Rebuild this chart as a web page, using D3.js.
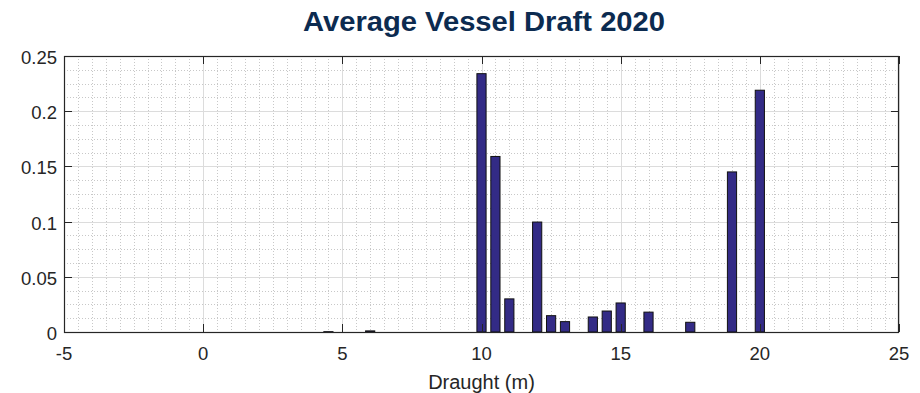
<!DOCTYPE html>
<html><head><meta charset="utf-8">
<script src="https://cdn.jsdelivr.net/npm/d3@7/dist/d3.min.js"></script>
<style>body{margin:0;background:#fff;}svg{display:block;font-family:"Liberation Sans",Arial,sans-serif;}</style>
</head><body><svg id="c" width="920" height="393"></svg>
<script>
const draught = [4.5, 6, 10, 10.5, 11, 12, 12.5, 13, 14, 14.5, 15, 16, 17.5, 19, 20];
const share   = [0.0003, 0.001, 0.234, 0.159, 0.030, 0.0996, 0.0148, 0.0094, 0.0136, 0.019, 0.0263, 0.018, 0.0088, 0.145, 0.219];
const xTicks = [-5, 0, 5, 10, 15, 20, 25];
const yTicks = [0, 0.05, 0.1, 0.15, 0.2, 0.25];
const titleText = "Average Vessel Draft 2020";
const xLabel = "Draught (m)";

const svg = d3.select("#c");
const L = 64, R = 899, T = 56, B = 332;
const x = d3.scaleLinear().domain([-5, 25]).range([L, R]);
const y = d3.scaleLinear().domain([0, 0.25]).range([B, T]);

// minor grid
const g = svg.append("g");
const xMinor = d3.range(-5, 25.001, 0.5);
const yMinor = d3.range(0, 0.25001, 0.0125);
g.selectAll(".mx").data(xMinor).enter().append("line")
  .attr("x1", d => Math.round(x(d)) + 0.5).attr("x2", d => Math.round(x(d)) + 0.5)
  .attr("y1", T).attr("y2", B)
  .attr("stroke", "#c8c8c8").attr("stroke-width", 1).attr("stroke-dasharray", "1,2");
g.selectAll(".my").data(yMinor).enter().append("line")
  .attr("y1", d => Math.round(y(d)) + 0.5).attr("y2", d => Math.round(y(d)) + 0.5)
  .attr("x1", L).attr("x2", R)
  .attr("stroke", "#c8c8c8").attr("stroke-width", 1).attr("stroke-dasharray", "1,2");
// major grid
g.selectAll(".gx").data(xTicks).enter().append("line")
  .attr("x1", d => Math.round(x(d)) + 0.5).attr("x2", d => Math.round(x(d)) + 0.5)
  .attr("y1", T).attr("y2", B).attr("stroke", "#dcdcdc");
g.selectAll(".gy").data(yTicks).enter().append("line")
  .attr("y1", d => Math.round(y(d)) + 0.5).attr("y2", d => Math.round(y(d)) + 0.5)
  .attr("x1", L).attr("x2", R).attr("stroke", "#dcdcdc");

// bars
const bw = x(0.33) - x(0);
svg.selectAll(".bar").data(draught).enter().append("rect")
  .attr("x", (d) => x(d) - bw / 2)
  .attr("width", bw)
  .attr("y", (d, i) => y(share[i]))
  .attr("height", (d, i) => B - y(share[i]))
  .attr("fill", "#332b86").attr("stroke", "#111").attr("stroke-width", 1);

// axes box with inner ticks
const tk = 8;
const ax = svg.append("g").attr("stroke", "#262626").attr("fill", "none");
ax.append("rect").attr("x", L + 0.5).attr("y", T + 0.5).attr("width", R - L - 1).attr("height", B - T)
  .attr("stroke-width", 1.2);
xTicks.forEach(d => {
  const px = Math.round(x(d)) + 0.5;
  ax.append("line").attr("x1", px).attr("x2", px).attr("y1", B).attr("y2", B - tk);
  ax.append("line").attr("x1", px).attr("x2", px).attr("y1", T).attr("y2", T + tk);
});
yTicks.forEach(d => {
  const py = Math.round(y(d)) + 0.5;
  ax.append("line").attr("x1", L).attr("x2", L + tk).attr("y1", py).attr("y2", py);
  ax.append("line").attr("x1", R).attr("x2", R - tk).attr("y1", py).attr("y2", py);
});

// tick labels
svg.selectAll(".xl").data(xTicks).enter().append("text")
  .attr("x", d => x(d)).attr("y", 360).attr("text-anchor", "middle")
  .attr("font-size", 18.5).attr("fill", "#262626").text(d => d);
svg.selectAll(".yl").data(yTicks).enter().append("text")
  .attr("x", 57).attr("y", d => y(d) + 8).attr("text-anchor", "end")
  .attr("font-size", 18.5).attr("fill", "#262626").text(d => d);

svg.append("text").attr("x", (L + R) / 2).attr("y", 389).attr("text-anchor", "middle")
  .attr("font-size", 20).attr("fill", "#262626").text(xLabel);
svg.append("text").attr("x", 484).attr("y", 31).attr("text-anchor", "middle")
  .attr("font-size", 27.5).attr("font-weight", "bold").attr("fill", "#0c2b50")
  .attr("textLength", 362).attr("lengthAdjust", "spacingAndGlyphs").text(titleText);
</script></body></html>
